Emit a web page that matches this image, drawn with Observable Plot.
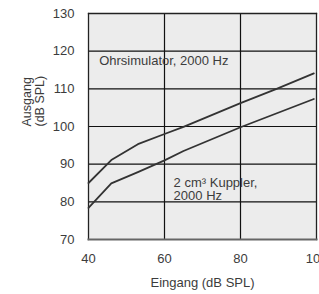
<!DOCTYPE html>
<html>
<head>
<meta charset="utf-8">
<script src="https://cdn.jsdelivr.net/npm/d3@7"></script>
<script src="https://cdn.jsdelivr.net/npm/@observablehq/plot@0.6"></script>
<style>
html,body{margin:0;padding:0;background:#fff;}
svg{display:block;}
</style>
</head>
<body>
<div id="chart"></div>
<script>
const ohrIn  = [40, 46, 53, 60, 65, 80, 89.5, 99.3];
const ohrOut = [85, 91.1, 95.3, 98, 99.9, 106.2, 110, 114.1];
const kupIn  = [40, 46, 53, 60, 65, 80, 99.3];
const kupOut = [78.4, 84.9, 87.9, 91, 93.5, 99.8, 107.3];
const xTicks = [40, 60, 80, 100];
const yTicks = [70, 80, 90, 100, 110, 120, 130];
const hGrid = [80, 90, 100, 110, 120];
const vGrid = [60, 80];

const ohr = ohrIn.map((x, i) => ({x, y: ohrOut[i]}));
const kup = kupIn.map((x, i) => ({x, y: kupOut[i]}));

const font = "Liberation Sans, Arial, Helvetica, sans-serif";
const textColor = "#3c3c3c";

const chart = Plot.plot({
  width: 319,
  height: 294,
  marginLeft: 88,
  marginRight: 3,
  marginTop: 13,
  marginBottom: 55,
  style: {fontFamily: font, fontSize: "13px", color: textColor, background: "#fff", overflow: "visible"},
  x: {domain: [40, 100]},
  y: {domain: [70, 130]},
  marks: [
    Plot.frame({fill: "#ececec", stroke: null}),
    Plot.ruleY(hGrid, {stroke: "#111", strokeWidth: 1.2}),
    Plot.ruleX(vGrid, {stroke: "#111", strokeWidth: 1.2}),
    Plot.frame({stroke: "#222", strokeWidth: 1.3, anchor: "top"}),
    Plot.frame({stroke: "#222", strokeWidth: 1.3, anchor: "left"}),
    Plot.frame({stroke: "#222", strokeWidth: 1.3, anchor: "right"}),
    Plot.frame({stroke: "#666", strokeWidth: 2, anchor: "bottom"}),
    Plot.line(ohr, {x: "x", y: "y", stroke: "#333", strokeWidth: 1.8}),
    Plot.line(kup, {x: "x", y: "y", stroke: "#333", strokeWidth: 1.8}),
    Plot.text(["Ohrsimulator, 2000 Hz"], {x: 42.8, y: 117.5, text: d => d, textAnchor: "start", fontSize: 13, fill: textColor}),
    Plot.text(["2 cm³ Kuppler,\n2000 Hz"], {x: 62.4, y: 83.45, text: d => d, textAnchor: "start", lineHeight: 1.0, fontSize: 13, fill: textColor}),
    Plot.axisX({ticks: xTicks, tickSize: 0, tickPadding: 14, fontSize: 13, fill: textColor, label: null, tickFormat: d => String(d)}),
    Plot.axisY({ticks: yTicks, tickSize: 0, tickPadding: 14, fontSize: 13, fill: textColor, label: null, tickFormat: d => String(d)}),
    Plot.text(["Eingang (dB SPL)"], {frameAnchor: "bottom", text: d => d, dy: 47, dx: 0, fontSize: 13, fill: textColor}),
    Plot.text(["Ausgang"], {frameAnchor: "left", text: d => d, dx: -62, rotate: -90, fontSize: 12.5, fill: textColor}),
    Plot.text(["(dB SPL)"], {frameAnchor: "left", text: d => d, dx: -49, rotate: -90, fontSize: 12.5, fill: textColor})
  ]
});
document.getElementById("chart").appendChild(chart);
</script>
</body>
</html>
